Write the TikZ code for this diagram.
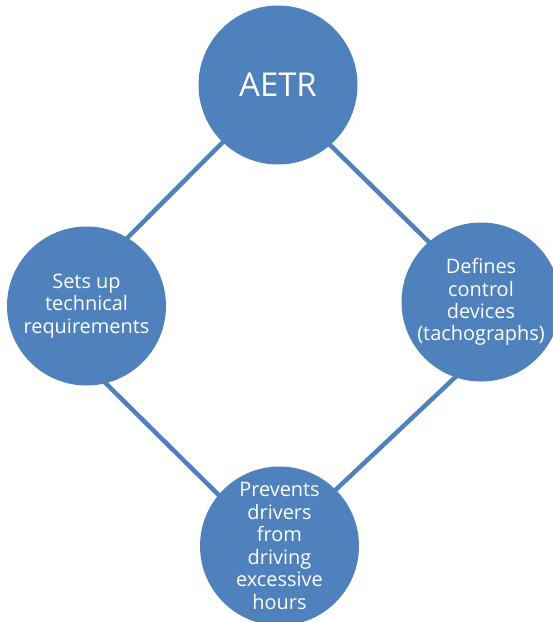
\documentclass[tikz,border=0pt]{standalone}
\usepackage{fontspec}
\setmainfont{Open Sans}
\usepackage{xcolor}
\usetikzlibrary{positioning,backgrounds}
\definecolor{AetrBlue}{RGB}{79,129,189}
\tikzset{% 
	hub/.style={circle, draw=none, fill=AetrBlue,
		text centered, text=white, minimum size=159bp, inner sep=-10bp,
		font=\fontsize{33}{38}\selectfont},
	topic/.style={circle, draw=none, fill=AetrBlue,
		text centered, text=white, minimum size=159bp, inner sep=-10bp,
		font=\fontsize{20}{22.5}\selectfont},
	link/.style={draw=AetrBlue, line width=4.5bp,
		shorten <=-4bp, shorten >=-4bp},
}

\begin{document}
\begin{tikzpicture}[x=1bp,y=-1bp,
    every text node part/.style={align=center}]

    \useasboundingbox (0,0) rectangle (553,622);

    \node [hub] (AETR) at (278,85) {AETR};

    \node [topic] (Requirements) [below of = AETR, xshift=-191.5bp, node distance=221bp]
        {Sets up\\technical\\requirements};
    \node [topic] (Devices) [below of = AETR, xshift=203bp, node distance=217bp]
        {Defines\\control\\devices\\(tachographs)};
    \node [topic] (Hours) [below of = AETR, xshift=1.5bp, node distance=461bp]
        {Prevents\\drivers\\from\\driving\\excessive\\hours};

    \begin{scope}[on background layer]
    \path[link] (AETR.226) -- (Requirements.59);
    \path[link] (AETR.311) -- (Devices.131);
    \path[link] (Requirements.284) -- (Hours.140);
    \path[link] (Devices.251) -- (Hours.45);
    \end{scope}

\end{tikzpicture}
\end{document}
